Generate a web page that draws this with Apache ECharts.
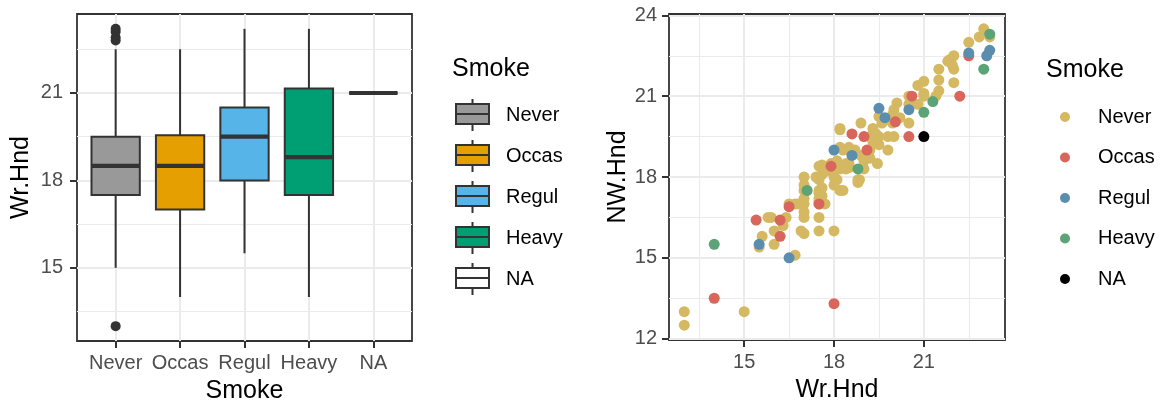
<!DOCTYPE html>
<html>
<head>
<meta charset="utf-8">
<script src="https://cdn.jsdelivr.net/npm/echarts@6/dist/echarts.min.js"></script>
<style>
  html, body { margin: 0; padding: 0; background: #ffffff; }
  #chart { width: 1162px; height: 400px; }
</style>
</head>
<body>
<div id="chart"></div>
<script>
// Smoking status groups
const categories = ['Never', 'Occas', 'Regul', 'Heavy', 'NA'];

// Box summaries of Wr.Hnd per group
const whiskerLow    = [15.0, 14.0, 15.5, 14.0, 21.0];
const lowerQuartile = [17.5, 17.0, 18.0, 17.5, 21.0];
const medians       = [18.5, 18.5, 19.5, 18.8, 21.0];
const upperQuartile = [19.5, 19.55, 20.5, 21.15, 21.0];
const whiskerHigh   = [22.5, 22.5, 23.2, 23.2, 21.0];
const outlierGroup  = [1, 1, 1, 1, 1];
const outlierValue  = [23.2, 23.1, 22.9, 22.8, 13.0];

// Tick labels
const boxYTicks = [15, 18, 21];
const scatterXTicks = [15, 18, 21];
const scatterYTicks = [12, 15, 18, 21, 24];

// Wr.Hnd vs NW.Hnd per group
const neverPts = [
  [13.0,13.0],[13.0,12.5],[15.0,13.0],
  [15.5,15.4],[16.7,15.1],[16.0,15.5],[15.6,15.8],[16.0,16.0],[15.8,16.5],[15.9,16.5],[16.3,16.2],[16.4,16.5],
  [16.9,16.0],[17.0,15.9],[17.5,16.0],[18.0,16.0],[17.5,16.5],[17.0,16.7],[17.0,16.5],
  [16.5,17.0],[16.7,17.0],[16.8,17.0],[17.0,17.0],[17.0,17.2],[17.1,17.5],[17.0,17.5],[17.0,18.0],[17.0,17.7],
  [17.5,17.0],[17.7,17.0],[17.5,17.2],[17.5,17.4],[17.5,17.9],[17.5,17.5],[17.6,17.6],[17.6,17.3],[17.5,17.1],
  [18.2,17.5],[18.3,17.5],[18.0,17.7],[18.8,17.8],[18.8,17.9],[18.0,18.0],[17.4,18.0],[17.7,18.2],[18.1,17.9],[17.6,18.1],
  [17.5,18.4],[17.6,18.45],[17.9,18.5],[18.1,18.6],[18.1,18.3],[18.2,18.3],[18.4,18.3],[18.0,18.2],[18.5,18.5],[18.5,18.35],[18.4,18.5],
  [18.2,19.1],[18.5,19.1],[18.7,19.0],[18.3,19.0],[18.5,19.0],[18.9,18.8],[19.0,18.6],[19.45,18.5],[19.2,18.7],[19.0,18.3],[18.85,17.9],
  [18.2,19.75],[18.2,19.8],[18.9,20.0],[19.2,19.0],[19.3,19.3],[19.5,19.5],[19.5,19.2],[19.2,19.5],[19.3,19.8],[19.4,19.6],
  [19.8,19.5],[19.8,19.0],[20.0,19.5],[19.5,20.25],[19.6,20.0],[19.95,20.3],[19.95,20.0],[20.5,20.0],
  [20.1,20.75],[20.0,20.5],[20.5,20.7],[20.8,20.7],[20.2,20.2],
  [20.5,21.0],[21.0,21.1],[21.0,21.0],[20.8,21.4],[21.0,21.55],[21.5,21.2],[21.4,21.0],[21.5,21.6],[22.0,21.5],
  [21.5,22.0],[21.8,22.3],[22.0,22.5],[21.85,22.35],[21.95,22.15],[22.0,22.0],
  [22.5,23.0],[22.85,23.2],[23.0,23.5],[23.2,23.2]
];
const occasPts = [
  [14.0,13.5],[18.0,13.3],[15.4,16.4],[16.2,16.4],[16.2,15.8],[16.5,16.9],[17.5,17.0],[17.9,18.4],
  [18.6,19.6],[19.0,19.5],[19.1,19.0],[20.05,20.05],[20.5,19.5],[20.6,21.0],[22.2,21.0],[22.5,22.5]
];
const regulPts = [
  [15.5,15.5],[16.5,15.0],[18.0,19.0],[18.6,18.8],[19.5,20.55],[19.7,20.2],[20.5,20.5],[22.5,22.6],[23.2,22.7],[23.1,22.5]
];
const heavyPts = [
  [14.0,15.5],[17.1,17.5],[18.8,18.3],[21.0,20.4],[21.3,20.8],[23.2,23.3],[23.0,22.0]
];
const naPts = [[21.0,19.5]];

const FONT = '"Liberation Sans", Arial, Helvetica, sans-serif';
const INK = '#333333';
const TICK_TEXT = '#4D4D4D';
const GRID_LINE = '#EBEBEB';
const boxFill = ['#999999', '#E69F00', '#56B4E9', '#009E73', '#FFFFFF'];
const pointColor = ['#D5B862', '#D9665A', '#5A8DAE', '#5CA378', '#000000'];
const pointSeries = [neverPts, occasPts, regulPts, heavyPts, naPts];
const BOX_WIDTH = 0.75;

function gridLines(xMajor, xMinor, yMajor, yMinor) {
  const data = [];
  xMinor.forEach(v => data.push({ xAxis: v, lineStyle: { width: 1.1 } }));
  yMinor.forEach(v => data.push({ yAxis: v, lineStyle: { width: 1.1 } }));
  xMajor.forEach(v => data.push({ xAxis: v, lineStyle: { width: 2 } }));
  yMajor.forEach(v => data.push({ yAxis: v, lineStyle: { width: 2 } }));
  return data;
}

function renderBox(params, api) {
  const x = api.value(0);
  const pLo = api.coord([x, api.value(1)]);
  const pQ1 = api.coord([x, api.value(2)]);
  const pMed = api.coord([x, api.value(3)]);
  const pQ3 = api.coord([x, api.value(4)]);
  const pHi = api.coord([x, api.value(5)]);
  const half = api.size([BOX_WIDTH, 0])[0] / 2;
  const stroke = { stroke: INK, lineWidth: 2 };
  return {
    type: 'group',
    children: [
      { type: 'line', shape: { x1: pLo[0], y1: pLo[1], x2: pQ1[0], y2: pQ1[1] }, style: stroke },
      { type: 'line', shape: { x1: pQ3[0], y1: pQ3[1], x2: pHi[0], y2: pHi[1] }, style: stroke },
      { type: 'rect', shape: { x: pQ3[0] - half, y: pQ3[1], width: 2 * half, height: pQ1[1] - pQ3[1] },
        style: { fill: api.visual('color'), stroke: INK, lineWidth: 2 } },
      { type: 'line', shape: { x1: pMed[0] - half, y1: pMed[1], x2: pMed[0] + half, y2: pMed[1] },
        style: { stroke: INK, lineWidth: 4.2 } }
    ]
  };
}

const tickStyle = { show: true, length: 7, lineStyle: { color: INK, width: 2 } };
const labelBase = { fontFamily: FONT, fontSize: 20, color: TICK_TEXT };
const nameBase = { fontFamily: FONT, fontSize: 25, color: '#000000' };

const series = [];

// background grid lines for both panels
series.push({
  type: 'line', xAxisIndex: 0, yAxisIndex: 0, data: [], z: 0, silent: true,
  markLine: {
    silent: true, z: 1, symbol: ['none', 'none'], label: { show: false },
    lineStyle: { color: GRID_LINE, type: 'solid' }, emphasis: { disabled: true },
    data: gridLines([1, 2, 3, 4, 5], [], boxYTicks, [13.5, 16.5, 19.5, 22.5])
  }
});
series.push({
  type: 'line', xAxisIndex: 1, yAxisIndex: 1, data: [], z: 0, silent: true,
  markLine: {
    silent: true, z: 1, symbol: ['none', 'none'], label: { show: false },
    lineStyle: { color: GRID_LINE, type: 'solid' }, emphasis: { disabled: true },
    data: gridLines(scatterXTicks, [13.5, 16.5, 19.5, 22.5], scatterYTicks, [13.5, 16.5, 19.5, 22.5])
  }
});

// one box per smoking group
categories.forEach((name, i) => {
  series.push({
    name: name, type: 'custom', xAxisIndex: 0, yAxisIndex: 0, z: 3,
    itemStyle: { color: boxFill[i] },
    renderItem: renderBox,
    encode: { x: 0, y: [1, 2, 3, 4, 5] },
    data: [[i + 1, whiskerLow[i], lowerQuartile[i], medians[i], upperQuartile[i], whiskerHigh[i]]]
  });
});

// outlying points
series.push({
  type: 'scatter', xAxisIndex: 0, yAxisIndex: 0, z: 4, symbolSize: 10,
  itemStyle: { color: INK, opacity: 1 },
  data: outlierValue.map((v, i) => [outlierGroup[i], v])
});

// hand span scatter
categories.forEach((name, i) => {
  series.push({
    name: name, type: 'scatter', xAxisIndex: 1, yAxisIndex: 1, z: 5 + i, symbolSize: 11,
    itemStyle: { color: pointColor[i], opacity: 1 },
    data: pointSeries[i]
  });
});

const boxIcon = 'path://M0,5 L33,5 L33,25 L0,25 Z M0,15 L33,15 M16.5,0 L16.5,5 M16.5,25 L16.5,32';

const option = {
  animation: false,
  backgroundColor: '#ffffff',
  textStyle: { fontFamily: FONT },
  title: [
    { text: 'Smoke', left: 452, top: 57, padding: 0,
      textStyle: { fontFamily: FONT, fontSize: 25, fontWeight: 'normal', color: '#000000' } },
    { text: 'Smoke', left: 1046, top: 58, padding: 0,
      textStyle: { fontFamily: FONT, fontSize: 25, fontWeight: 'normal', color: '#000000' } }
  ],
  legend: [
    {
      orient: 'vertical', left: 455, top: 98, padding: 0,
      itemWidth: 33, itemHeight: 32, itemGap: 7, selectedMode: false,
      textStyle: { fontFamily: FONT, fontSize: 20, color: '#000000', padding: [0, 0, 0, 12] },
      data: categories.map((name, i) => ({
        name: name, icon: boxIcon,
        itemStyle: { color: boxFill[i], borderColor: INK, borderWidth: 2 }
      }))
    },
    {
      orient: 'vertical', left: 1060, top: 107, padding: 0,
      itemWidth: 10, itemHeight: 10, itemGap: 20.5, selectedMode: false,
      textStyle: { fontFamily: FONT, fontSize: 20, color: '#000000', lineHeight: 20, padding: [0, 0, 0, 23] },
      data: categories.map((name, i) => ({
        name: name, icon: 'circle',
        itemStyle: { color: pointColor[i], borderWidth: 0 }
      }))
    }
  ],
  grid: [
    { left: 77, top: 14, width: 335, height: 327, show: true, borderColor: INK, borderWidth: 1.8,
      backgroundColor: 'transparent', containLabel: false, outerBoundsMode: 'none' },
    { left: 669, top: 14, width: 336, height: 326, show: true, borderColor: INK, borderWidth: 1.8,
      backgroundColor: 'transparent', containLabel: false, outerBoundsMode: 'none' }
  ],
  xAxis: [
    {
      gridIndex: 0, type: 'value', min: 0.4, max: 5.6,
      axisLine: { show: false }, splitLine: { show: false },
      axisTick: Object.assign({ customValues: [1, 2, 3, 4, 5] }, tickStyle),
      axisLabel: Object.assign({ customValues: [1, 2, 3, 4, 5], margin: 12,
        formatter: v => categories[Math.round(v) - 1] }, labelBase),
      name: 'Smoke', nameLocation: 'middle', nameGap: 38, nameTextStyle: nameBase
    },
    {
      gridIndex: 1, type: 'value', min: 12.49, max: 23.71,
      axisLine: { show: false }, splitLine: { show: false },
      axisTick: Object.assign({ customValues: scatterXTicks }, tickStyle),
      axisLabel: Object.assign({ customValues: scatterXTicks, margin: 12 }, labelBase),
      name: 'Wr.Hnd', nameLocation: 'middle', nameGap: 38, nameTextStyle: nameBase
    }
  ],
  yAxis: [
    {
      gridIndex: 0, type: 'value', min: 12.49, max: 23.71,
      axisLine: { show: false }, splitLine: { show: false },
      axisTick: Object.assign({ customValues: boxYTicks }, tickStyle),
      axisLabel: Object.assign({ customValues: boxYTicks, margin: 14 }, labelBase),
      name: 'Wr.Hnd', nameLocation: 'middle', nameGap: 43, nameTextStyle: nameBase
    },
    {
      gridIndex: 1, type: 'value', min: 11.95, max: 24.05,
      axisLine: { show: false }, splitLine: { show: false },
      axisTick: Object.assign({ customValues: scatterYTicks }, tickStyle),
      axisLabel: Object.assign({ customValues: scatterYTicks, margin: 12 }, labelBase),
      name: 'NW.Hnd', nameLocation: 'middle', nameGap: 30, nameTextStyle: nameBase
    }
  ],
  series: series
};

const chart = echarts.init(document.getElementById('chart'), null, { renderer: 'canvas' });
chart.setOption(option);
</script>
</body>
</html>
